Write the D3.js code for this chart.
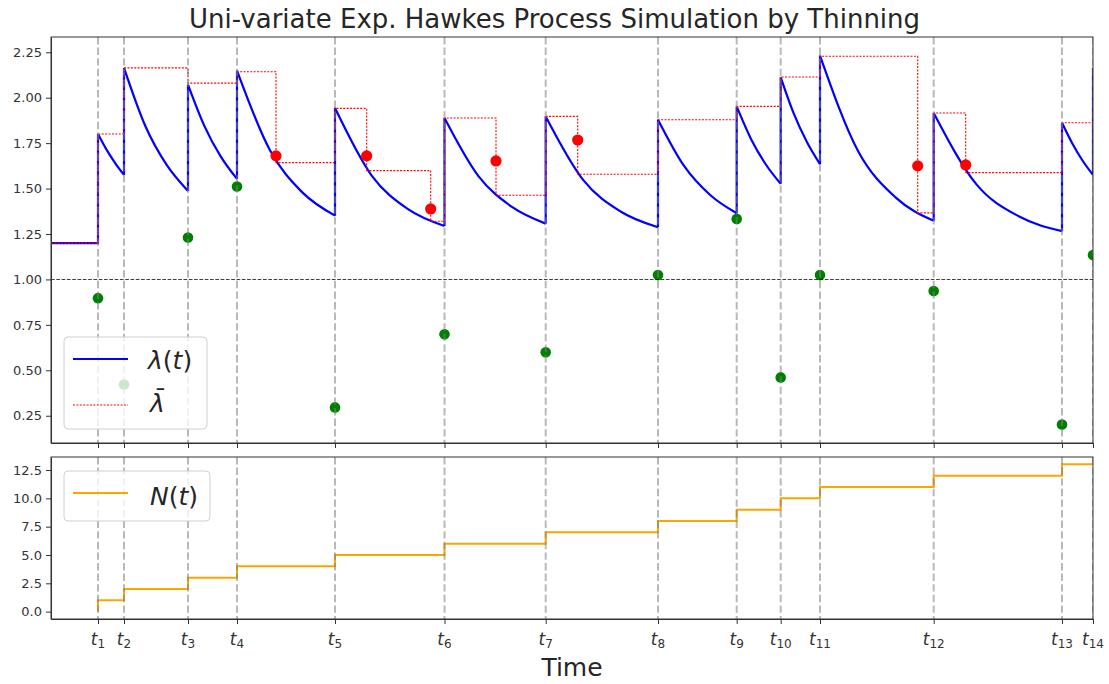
<!DOCTYPE html>
<html lang="en">
<head>
<meta charset="utf-8">
<title>Hawkes thinning</title>
<script src="https://d3js.org/d3.v7.min.js"></script>
<style>
  body { margin: 0; background: #fff; }
  svg text { font-family: "DejaVu Sans", sans-serif; fill: #262626; }
  .axis path, .axis line { stroke: #333; }
  .axis text { font-size: 13px; fill: #333; }
</style>
</head>
<body>
<div id="chart"></div>
<script>
"use strict"

// event times t1..t14 (time units)
const eventTimes = [0.47, 0.73, 1.37, 1.86, 2.84, 3.935, 4.947, 6.07, 6.857, 7.297, 7.69, 8.827, 10.11, 10.42];
const baseRate = 1.2;
// intensity just after each event, and read values along each decay up to the next event
const lambdaPeak = [1.80, 2.164, 2.072, 2.149, 1.943, 1.888, 1.897, 1.879, 1.952, 2.112, 2.232, 1.916, 1.862, 2.164];
const lambdaThird = [1.713, 1.844, 1.845, 1.714, 1.573, 1.570, 1.548, 1.623, 1.769, 1.912, 1.708, 1.523, 1.748];
const lambdaTwoThird = [1.639, 1.630, 1.677, 1.479, 1.387, 1.399, 1.374, 1.463, 1.631, 1.756, 1.450, 1.346, 1.653];
const lambdaTrough = [1.575, 1.487, 1.553, 1.351, 1.294, 1.307, 1.287, 1.364, 1.526, 1.634, 1.323, 1.266, 1.575];

// upper bound lambda-bar (step)
const barTimes = [0, 0.47, 0.73, 1.37, 1.86, 2.25, 2.84, 3.157, 3.797, 3.935, 4.45, 4.947, 5.267, 6.07, 6.857, 7.297, 7.69, 8.667, 8.827, 9.147, 10.11, 10.42];
const barValues = [1.2, 1.80, 2.164, 2.08, 2.143, 1.643, 1.941, 1.599, 1.32, 1.888, 1.463, 1.897, 1.579, 1.879, 1.952, 2.114, 2.228, 1.366, 1.916, 1.588, 1.862, 1.862];

// candidate points
const rejectedTimes = [2.25, 3.157, 3.797, 4.45, 5.267, 8.667, 9.147];
const rejectedValues = [1.68, 1.68, 1.388, 1.652, 1.767, 1.625, 1.630];
const acceptedValues = [0.897, 0.422, 1.231, 1.511, 0.296, 0.698, 0.599, 1.024, 1.333, 0.461, 1.024, 0.936, 0.202, 1.134];

// counting process
const counts = [0, 1, 2, 3, 4, 5, 6, 7, 8, 9, 10, 11, 12, 13];

const topTicks = [0.25, 0.5, 0.75, 1.0, 1.25, 1.5, 1.75, 2.0, 2.25];
const bottomTicks = [0, 2.5, 5, 7.5, 10, 12.5];

const W = 1109, H = 684;
const left = 51, right = 1093;
const top1 = 37, bot1 = 443, top2 = 457, bot2 = 619;

const svg = d3.select('#chart').append('svg')
    .attr('width', W).attr('height', H);

const x = d3.scaleLinear().domain([0, eventTimes[eventTimes.length - 1]]).range([left, right]);
const y1 = d3.scaleLinear().domain([0.10, 2.334]).range([bot1, top1]);
const y2 = d3.scaleLinear().domain([-0.65, 13.65]).range([bot2, top2]);

// clip paths
const defs = svg.append('defs');
defs.append('clipPath').attr('id', 'c1').append('rect')
    .attr('x', left).attr('y', top1).attr('width', right - left).attr('height', bot1 - top1);
defs.append('clipPath').attr('id', 'c2').append('rect')
    .attr('x', left).attr('y', top2).attr('width', right - left).attr('height', bot2 - top2);

// ---------- top panel ----------
const g1 = svg.append('g').attr('clip-path', 'url(#c1)');

// intensity lambda(t)
const seg = d3.line().x(d => x(d[0])).y(d => y1(d[1])).curve(d3.curveMonotoneX);
const straight = d3.line().x(d => x(d[0])).y(d => y1(d[1]));
let dPath = straight([[0, baseRate], [eventTimes[0], baseRate], [eventTimes[0], lambdaPeak[0]]]);
for (let i = 0; i < lambdaTrough.length; i++) {
  const a = eventTimes[i], b = eventTimes[i + 1], dt = b - a;
  dPath += seg([[a, lambdaPeak[i]], [a + dt / 3, lambdaThird[i]], [a + 2 * dt / 3, lambdaTwoThird[i]], [b, lambdaTrough[i]]]);
  dPath += straight([[b, lambdaTrough[i]], [b, lambdaPeak[i + 1]]]);
}
g1.append('path').attr('d', dPath)
    .attr('fill', 'none').attr('stroke', '#0000ff').attr('stroke-width', 2.2);

// lambda bar
g1.append('path')
    .attr('d', d3.line().x((d, i) => x(barTimes[i])).y(d => y1(d)).curve(d3.curveStepAfter)(barValues))
    .attr('fill', 'none').attr('stroke', '#ff0000').attr('stroke-width', 1.1)
    .attr('stroke-dasharray', '2,1.4');

// points
g1.selectAll('.acc').data(acceptedValues).enter().append('circle')
    .attr('cx', (d, i) => x(eventTimes[i])).attr('cy', d => y1(d)).attr('r', 5.3)
    .attr('fill', '#008000');
g1.selectAll('.rej').data(rejectedValues).enter().append('circle')
    .attr('cx', (d, i) => x(rejectedTimes[i])).attr('cy', d => y1(d)).attr('r', 5.6)
    .attr('fill', '#ff0000');

// event lines
g1.selectAll('.ev').data(eventTimes).enter().append('line')
    .attr('x1', d => x(d)).attr('x2', d => x(d)).attr('y1', top1).attr('y2', bot1)
    .attr('stroke', '#808080').attr('stroke-opacity', 0.55).attr('stroke-width', 2)
    .attr('stroke-dasharray', '7.4,3.2');

// y = 1 line
g1.append('line')
    .attr('x1', left).attr('x2', right).attr('y1', y1(1)).attr('y2', y1(1))
    .attr('stroke', '#000').attr('stroke-opacity', 0.75).attr('stroke-width', 1.1)
    .attr('stroke-dasharray', '3.7,1.6');

// axes
svg.append('g').attr('class', 'axis').attr('transform', 'translate(' + left + ',0)')
    .call(d3.axisLeft(y1).tickValues(topTicks).tickFormat(d3.format('.2f')).tickSize(5).tickPadding(4).tickSizeOuter(0));
svg.append('g').attr('class', 'axis').attr('transform', 'translate(0,' + bot1 + ')')
    .call(d3.axisBottom(x).tickValues(eventTimes).tickFormat('').tickSize(5).tickSizeOuter(0));
svg.append('rect').attr('x', left).attr('y', top1).attr('width', right - left).attr('height', bot1 - top1)
    .attr('fill', 'none').attr('stroke', '#333').attr('stroke-width', 1);

// legend
const leg1 = svg.append('g');
leg1.append('rect').attr('x', 64).attr('y', 337).attr('width', 143).attr('height', 92).attr('rx', 4)
    .attr('fill', '#fff').attr('fill-opacity', 0.8).attr('stroke', '#d0d0d0');
leg1.append('line').attr('x1', 73).attr('x2', 128).attr('y1', 359).attr('y2', 359)
    .attr('stroke', '#0000ff').attr('stroke-width', 2);
leg1.append('line').attr('x1', 73).attr('x2', 128).attr('y1', 405).attr('y2', 405)
    .attr('stroke', '#ff0000').attr('stroke-width', 1.1).attr('stroke-dasharray', '2,1.4');
const l1 = leg1.append('text').attr('x', 148).attr('y', 369).style('font-size', '25px');
l1.append('tspan').style('font-style', 'italic').text('λ');
l1.append('tspan').text('(');
l1.append('tspan').style('font-style', 'italic').text('t');
l1.append('tspan').text(')');
leg1.append('text').attr('x', 150).attr('y', 412).style('font-size', '25px').style('font-style', 'italic')
    .text('λ\u0304');

// ---------- bottom panel ----------
const g2 = svg.append('g').attr('clip-path', 'url(#c2)');
g2.append('path')
    .attr('d', d3.line().x((d, i) => x(eventTimes[i])).y(d => y2(d)).curve(d3.curveStepBefore)(counts))
    .attr('fill', 'none').attr('stroke', '#ffa500').attr('stroke-width', 2);
g2.selectAll('.ev').data(eventTimes).enter().append('line')
    .attr('x1', d => x(d)).attr('x2', d => x(d)).attr('y1', top2).attr('y2', bot2)
    .attr('stroke', '#808080').attr('stroke-opacity', 0.55).attr('stroke-width', 2)
    .attr('stroke-dasharray', '7.4,3.2');

svg.append('g').attr('class', 'axis').attr('transform', 'translate(' + left + ',0)')
    .call(d3.axisLeft(y2).tickValues(bottomTicks).tickFormat(d3.format('.1f')).tickSize(5).tickPadding(4).tickSizeOuter(0));
const xb = svg.append('g').attr('class', 'axis').attr('transform', 'translate(0,' + bot2 + ')')
    .call(d3.axisBottom(x).tickValues(eventTimes).tickFormat('').tickSize(5).tickSizeOuter(0));
svg.append('rect').attr('x', left).attr('y', top2).attr('width', right - left).attr('height', bot2 - top2)
    .attr('fill', 'none').attr('stroke', '#333').attr('stroke-width', 1);

// t_i tick labels
eventTimes.forEach((t, i) => {
  const lab = svg.append('text').attr('x', x(t)).attr('y', 645)
      .attr('text-anchor', 'middle').style('font-size', '17px').style('fill', '#333');
  lab.append('tspan').style('font-style', 'italic').text('t');
  lab.append('tspan').attr('dy', 3).style('font-size', '12px').text(String(i + 1));
});

const leg2 = svg.append('g');
leg2.append('rect').attr('x', 64).attr('y', 471).attr('width', 146).attr('height', 50).attr('rx', 4)
    .attr('fill', '#fff').attr('fill-opacity', 0.8).attr('stroke', '#d0d0d0');
leg2.append('line').attr('x1', 73).attr('x2', 128).attr('y1', 493).attr('y2', 493)
    .attr('stroke', '#ffa500').attr('stroke-width', 2);
const l2 = leg2.append('text').attr('x', 150).attr('y', 505).style('font-size', '25px');
l2.append('tspan').style('font-style', 'italic').text('N');
l2.append('tspan').text('(');
l2.append('tspan').style('font-style', 'italic').text('t');
l2.append('tspan').text(')');

// titles
svg.append('text').attr('x', W / 2).attr('y', 28).attr('text-anchor', 'middle')
    .style('font-size', '26px').text('Uni-variate Exp. Hawkes Process Simulation by Thinning');
svg.append('text').attr('x', (left + right) / 2).attr('y', 676).attr('text-anchor', 'middle')
    .style('font-size', '25px').text('Time');
</script>
</body>
</html>
